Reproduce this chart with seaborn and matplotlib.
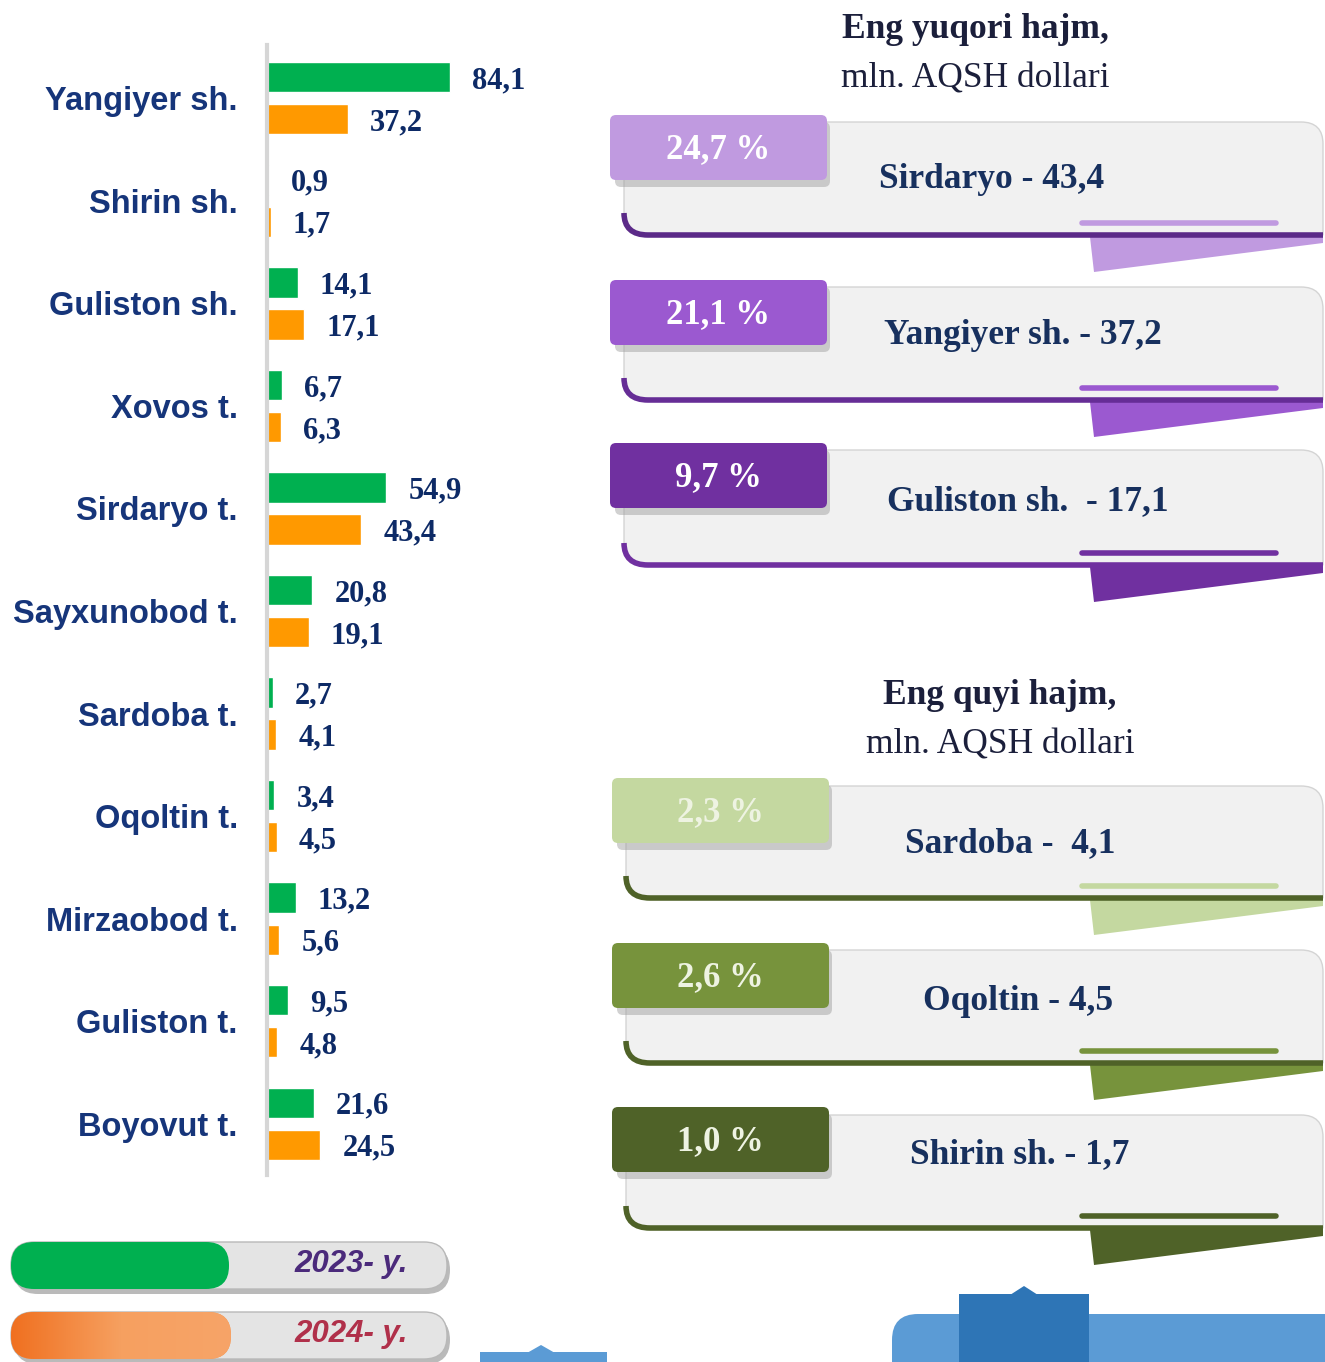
import numpy as np
import pandas as pd
import matplotlib.pyplot as plt
import seaborn as sns
from matplotlib.patches import FancyBboxPatch, Polygon, PathPatch, Rectangle
from matplotlib.path import Path
from matplotlib.colors import LinearSegmentedColormap

# data
regions = ['Yangiyer sh.', 'Shirin sh.', 'Guliston sh.', 'Xovos t.', 'Sirdaryo t.',
           'Sayxunobod t.', 'Sardoba t.', 'Oqoltin t.', 'Mirzaobod t.', 'Guliston t.',
           'Boyovut t.']
vals_2023 = [84.1, 0.9, 14.1, 6.7, 54.9, 20.8, 2.7, 3.4, 13.2, 9.5, 21.6]
vals_2024 = [37.2, 1.7, 17.1, 6.3, 43.4, 19.1, 4.1, 4.5, 5.6, 4.8, 24.5]
years = ['2023', '2024']

top_title = ['Eng yuqori hajm,', 'mln. AQSH dollari']
top_pcts = ['24,7 %', '21,1 %', '9,7 %']
top_names = ['Sirdaryo - 43,4', 'Yangiyer sh. - 37,2', 'Guliston sh.  - 17,1']
low_title = ['Eng quyi hajm,', 'mln. AQSH dollari']
low_pcts = ['2,3 %', '2,6 %', '1,0 %']
low_names = ['Sardoba -  4,1', 'Oqoltin - 4,5', 'Shirin sh. - 1,7']

GREEN = '#00b050'
ORANGE = '#ff9900'
NAVY = '#16357a'
SERIF = 'Liberation Serif'

sns.set_style('white')
plt.rcParams['font.family'] = ['Liberation Sans', 'DejaVu Sans']

df = pd.DataFrame({
    'region': regions * 2,
    'value': vals_2023 + vals_2024,
    'year': [years[0]] * len(regions) + [years[1]] * len(regions),
})

W, H = 1325, 1362
fig = plt.figure(figsize=(W / 100, H / 100), dpi=100)

# decoration layer in pixel coordinates
bg = fig.add_axes([0, 0, 1, 1], zorder=0)
bg.axis('off')

# --- bar chart ---
ax = fig.add_axes([267 / W, 1 - 1175 / H, 333 / W, 1130 / H], zorder=2)
ax.patch.set_alpha(0)
sns.barplot(data=df, y='region', x='value', hue='year', hue_order=years,
            orient='h', palette={years[0]: GREEN, years[1]: ORANGE}, saturation=1,
            width=0.82, gap=0.28, legend=False, ax=ax)
ax.set_xlim(0, 153)
ax.set_ylim(10.5, -0.52)
ax.set_xlabel('')
ax.set_ylabel('')
ax.set_xticks([])
for s in ['top', 'right', 'bottom']:
    ax.spines[s].set_visible(False)
ax.spines['left'].set_color('#d6d6d6')
ax.spines['left'].set_linewidth(3)
ax.tick_params(axis='y', length=0, pad=21)
for lab in ax.get_yticklabels():
    lab.set_fontsize(23.5)
    lab.set_fontweight('bold')
    lab.set_color(NAVY)

for cont, vals in zip(ax.containers, [vals_2023, vals_2024]):
    txts = ax.bar_label(cont, labels=[f'{v:.1f}'.replace('.', ',') for v in vals],
                        padding=16, fontsize=22, fontfamily=SERIF, fontweight='bold',
                        color='#0d2a66')
    for t in txts:
        t.set_va('center_baseline')


# --- ribbon cards on the right ---
def ribbon(tab_top, card_top, card_bot, pct, name, name_x, name_y, tab_col, line_col,
           inner_col, fold_col, pct_col='white', x0=610, cx0=624):
    cx1 = 1323
    # card body
    verts = [(cx0, card_top), (cx1 - 22, card_top), (cx1, card_top), (cx1, card_top + 22),
             (cx1, card_bot), (cx0 + 22, card_bot), (cx0, card_bot), (cx0, card_bot - 22),
             (cx0, card_top)]
    codes = [Path.MOVETO, Path.LINETO, Path.CURVE3, Path.CURVE3,
             Path.LINETO, Path.LINETO, Path.CURVE3, Path.CURVE3, Path.CLOSEPOLY]
    bg.add_patch(PathPatch(Path(verts, codes), facecolor='#f1f1f1',
                           edgecolor='#d4d4d4', lw=1, zorder=1))
    # fold below card
    bg.add_patch(Polygon([(1090, card_bot + 2), (cx1, card_bot + 2), (cx1, card_bot + 8),
                          (1094, card_bot + 37)], closed=True, facecolor=fold_col,
                         edgecolor='none', zorder=1))
    # dark bottom edge
    edge = Path([(cx0, card_bot - 22), (cx0, card_bot), (cx0 + 24, card_bot), (cx1, card_bot)],
                [Path.MOVETO, Path.CURVE3, Path.CURVE3, Path.LINETO])
    bg.add_patch(PathPatch(edge, facecolor='none', edgecolor=line_col, lw=4, zorder=2))
    # inner short line
    bg.plot([1082, 1276], [card_bot - 12, card_bot - 12], color=inner_col, lw=4,
            solid_capstyle='round', zorder=2)
    # tab with shadow
    bg.add_patch(FancyBboxPatch((x0 + 5, tab_top + 7), 215, 65,
                                boxstyle='round,pad=0,rounding_size=6',
                                facecolor='#9a9a9a', edgecolor='none', alpha=0.45, zorder=2))
    bg.add_patch(FancyBboxPatch((x0, tab_top), 217, 65,
                                boxstyle='round,pad=0,rounding_size=6',
                                facecolor=tab_col, edgecolor='none', zorder=3))
    bg.text(x0 + 108, tab_top + 35, pct, ha='center', va='center', fontsize=25,
            fontfamily=SERIF, fontweight='bold', color=pct_col, zorder=4)
    bg.text(name_x, name_y + 3, name, ha='center', va='center',
            fontsize=25.5, fontfamily=SERIF, fontweight='bold', color='#17305e', zorder=4)


for x, y, title in [(975, 30, top_title), (1000, 696, low_title)]:
    bg.text(x, y, title[0], ha='center', va='center', fontsize=25.5,
            fontfamily=SERIF, fontweight='bold', color='#1b1f3b')
    bg.text(x, y + 49, title[1], ha='center', va='center', fontsize=25.5,
            fontfamily=SERIF, color='#1b1f3b')

purple_tabs = ['#c09ae0', '#9b59d0', '#7030a0']
purple_lines = ['#5b2a88', '#662d96', '#7030a0']
top_rows = [(115, 122, 235, 992, 176), (280, 287, 400, 1023, 333),
            (443, 450, 565, 1028, 499)]
for (tt, ct, cb, nx, ny), pct, name, tc, lc in zip(top_rows, top_pcts, top_names,
                                                   purple_tabs, purple_lines):
    ribbon(tt, ct, cb, pct, name, nx, ny, tc, lc, tc, tc)

green_tabs = ['#c4d8a0', '#77933c', '#4f6228']
low_rows = [(778, 786, 898, 1010, 841), (943, 950, 1063, 1018, 998),
            (1107, 1115, 1228, 1020, 1152)]
for (tt, ct, cb, nx, ny), pct, name, tc in zip(low_rows, low_pcts, low_names, green_tabs):
    ribbon(tt, ct, cb, pct, name, nx, ny, tc, '#4f6228', tc, tc,
           pct_col='#eef3e2', x0=612, cx0=626)


# --- legend pills ---
def pill(y, fill_w, color, label, txt_col, grad=None):
    bg.add_patch(FancyBboxPatch((14, y + 4), 436, 48, boxstyle='round,pad=0,rounding_size=24',
                                facecolor='#8c8c8c', edgecolor='none', alpha=0.6, zorder=1))
    bg.add_patch(FancyBboxPatch((11, y), 436, 47, boxstyle='round,pad=0,rounding_size=23',
                                facecolor='#e4e4e4', edgecolor='#b8b8b8', lw=1, zorder=2))
    fp = FancyBboxPatch((11, y), fill_w, 47, boxstyle='round,pad=0,rounding_size=23',
                        facecolor=color, edgecolor='none', zorder=3)
    bg.add_patch(fp)
    if grad is not None:
        g = np.linspace(0, 1, 256).reshape(1, -1)
        im = bg.imshow(g, extent=(11, 11 + fill_w, y + 47, y), aspect='auto',
                       cmap=grad, zorder=3.5)
        im.set_clip_path(fp)
    bg.text(351, y + 22, label, ha='center', va='center', fontsize=22.5, fontweight='bold',
            fontstyle='italic', color=txt_col, zorder=4)


pill(1242, 218, GREEN, '2023- y.', '#4b2a7b')
orange_grad = LinearSegmentedColormap.from_list('og', ['#f07020', '#f6a060', '#f7a468'])
pill(1312, 220, '#f49048', '2024- y.', '#b0304a', grad=orange_grad)

# --- blue shapes at bottom ---
bg.add_patch(Rectangle((480, 1352), 127, 20, facecolor='#5b9bd5', edgecolor='none'))
bg.add_patch(Polygon([(527, 1353), (541, 1345), (555, 1353)], facecolor='#5b9bd5',
                     edgecolor='none'))
bg.add_patch(FancyBboxPatch((892, 1314), 460, 80, boxstyle='round,pad=0,rounding_size=26',
                            facecolor='#5b9bd5', edgecolor='none'))
bg.add_patch(Rectangle((959, 1294), 130, 80, facecolor='#2e75b6', edgecolor='none'))
bg.add_patch(Polygon([(1010, 1295), (1024, 1286), (1038, 1295)], facecolor='#2e75b6',
                     edgecolor='none'))

bg.set_xlim(0, W)
bg.set_ylim(H, 0)

fig.savefig('out.png', dpi=100)
